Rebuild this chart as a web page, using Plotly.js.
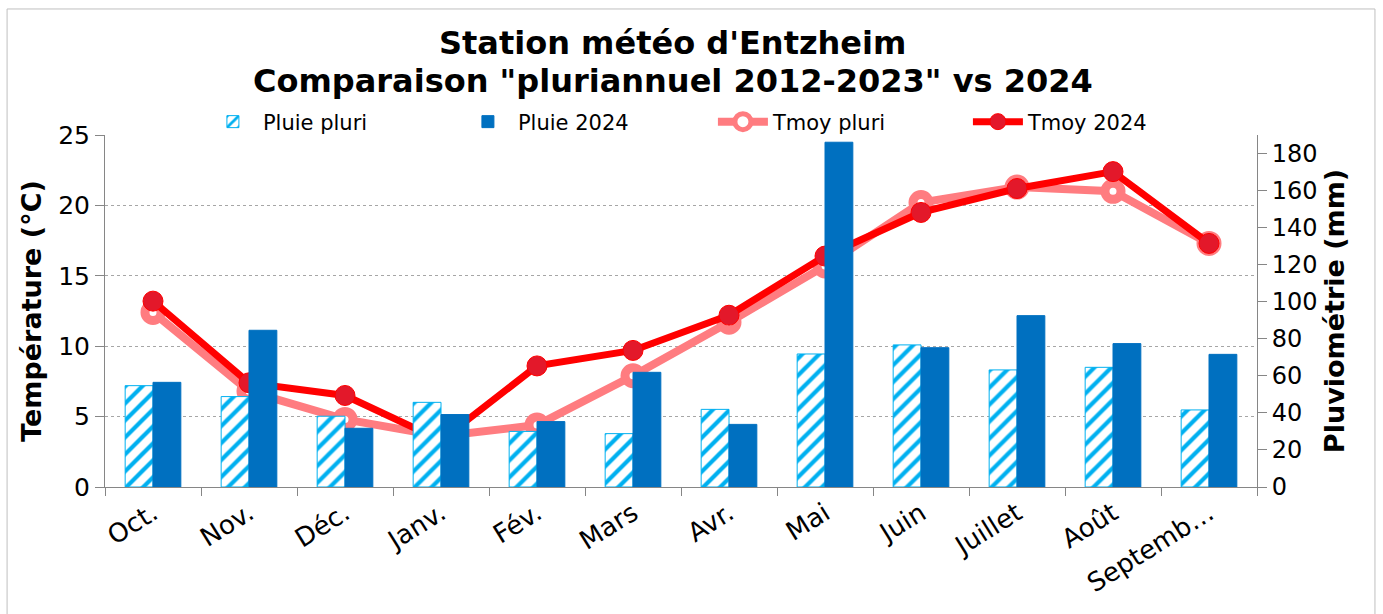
<!DOCTYPE html>
<html>
<head>
<meta charset="utf-8">
<script src="https://cdn.plot.ly/plotly-3.0.1.min.js"></script>
<style>
  body { margin: 0; background: #fff; }
  #chart { width: 1383px; height: 614px; }
</style>
</head>
<body>
<div id="chart"></div>
<script>
// months, Oct 2023 -> Sept 2024
const months = ["Oct.", "Nov.", "Déc.", "Janv.", "Fév.", "Mars", "Avr.", "Mai", "Juin", "Juillet", "Août", "Septemb…"];

// rainfall (mm), right axis
const pluiePluri = [54.7, 48.8, 38.2, 45.7, 30.0, 28.8, 41.9, 71.8, 76.7, 63.2, 64.6, 41.6];
const pluie2024 = [56.5, 84.6, 31.7, 39.1, 35.3, 61.9, 33.8, 186.1, 75.2, 92.5, 77.4, 71.6];

// mean temperature (°C), left axis
const tmoyPluri = [12.4, 6.8, 4.8, 3.6, 4.4, 7.9, 11.7, 15.7, 20.2, 21.3, 21.0, 17.3];
const tmoy2024 = [13.2, 7.4, 6.5, 3.3, 8.6, 9.7, 12.2, 16.4, 19.5, 21.2, 22.4, 17.3];

const titleLines = ["Station météo d'Entzheim", "Comparaison \"pluriannuel 2012-2023\" vs 2024"];

const font = "DejaVu Sans, Verdana, sans-serif";

const traces = [
  {
    x: months, y: pluiePluri, name: "Pluie pluri", type: "bar", yaxis: "y2",
    marker: {
      color: "#ffffff",
      line: { color: "#00B0F0", width: 1 },
      pattern: { shape: "/", fgcolor: "#00B0F0", bgcolor: "#ffffff", size: 12, solidity: 0.35 }
    }
  },
  {
    x: months, y: pluie2024, name: "Pluie 2024", type: "bar", yaxis: "y2",
    marker: { color: "#0070C0", line: { color: "#0070C0", width: 1 } }
  },
  {
    x: months, y: tmoyPluri, name: "Tmoy pluri", type: "scatter", mode: "lines+markers",
    line: { color: "#FF7C80", width: 8 },
    marker: { size: 16, color: "#ffffff", line: { color: "#FF7C80", width: 9 } }
  },
  {
    x: months, y: tmoy2024, name: "Tmoy 2024", type: "scatter", mode: "lines+markers",
    line: { color: "#FF0000", width: 7 },
    marker: { size: 20, color: "#E3182A", line: { color: "#FF0000", width: 1 } }
  }
];

// title line centres, in pixels from the top
const titleY = [43, 81];

const layout = {
  width: 1383, height: 614,
  margin: { l: 105, r: 126, t: 135, b: 127 },
  paper_bgcolor: "#ffffff", plot_bgcolor: "#ffffff",
  font: { family: font, size: 24, color: "#000" },
  barmode: "group", bargap: 0.42, bargroupgap: 0,
  showlegend: true,
  legend: {
    orientation: "h", x: 0.085, xanchor: "left", y: 1.037, yanchor: "middle",
    entrywidth: 190, entrywidthmode: "pixels",
    font: { family: font, size: 21 }, bgcolor: "rgba(0,0,0,0)",
    itemwidth: 50, traceorder: "normal"
  },
  xaxis: {
    type: "category", range: [-0.5, 11.5], tickson: "boundaries", ticks: "outside", ticklen: 8,
    tickcolor: "#868686", showline: true, linecolor: "#868686", linewidth: 1,
    tickangle: -32, tickfont: { size: 26 }, showgrid: false
  },
  yaxis: {
    range: [0, 25], dtick: 5, ticks: "outside", ticklen: 9, tickcolor: "#868686",
    showline: true, linecolor: "#868686", showgrid: true, gridcolor: "#A6A6A6",
    griddash: "dot", gridwidth: 1, zeroline: false, tickfont: { size: 25 },
    title: { text: "<b>Température (°C)</b>", font: { size: 27 }, standoff: 8 }
  },
  yaxis2: {
    overlaying: "y", side: "right", range: [0, 190], dtick: 20,
    ticks: "outside", ticklen: 9, tickcolor: "#868686", tickfont: { size: 24 },
    showline: true, linecolor: "#868686", showgrid: false, zeroline: false,
    title: { text: "<b>Pluviométrie (mm)</b>", font: { size: 27 }, standoff: 8 }
  },
  annotations: titleLines.map((t, i) => ({
    text: "<b>" + t + "</b>", xref: "paper", yref: "paper",
    x: 0.493, y: 1 + (135 - titleY[i]) / 352, xanchor: "center", yanchor: "middle",
    showarrow: false, font: { family: font, size: 32, color: "#000" }
  })),
  shapes: [{
    type: "rect", xref: "paper", yref: "paper",
    x0: -0.085, x1: 1.1024, y0: -0.4, y1: 1.358,
    line: { color: "#BFBFBF", width: 1 }, layer: "below"
  }]
};

Plotly.newPlot("chart", traces, layout, { displayModeBar: false });
</script>
</body>
</html>
